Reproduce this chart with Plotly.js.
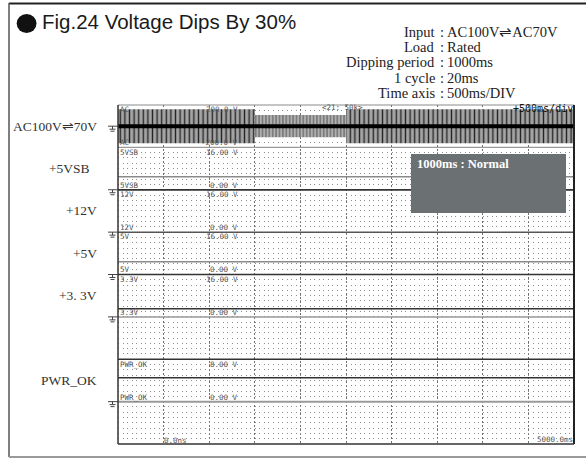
<!DOCTYPE html>
<html><head><meta charset="utf-8">
<script src="https://cdn.plot.ly/plotly-3.0.1.min.js"></script>
<style>html,body{margin:0;padding:0;background:#fff}#chart{width:586px;height:458px}</style>
</head><body><div id="chart"></div>
<script>
// ---------------- data ----------------
const timeSpanMs = [0, 5000];                 // 500 ms/DIV, 10 DIV
const channelNames = ['AC', '5VSB', '12V', '5V', '3.3V', 'PWR_OK'];
const channelSideLabels = ['AC100V\u21CC70V', '+5VSB', '+12V', '+5V', '+3. 3V', 'PWR_OK'];
const channelLane = [0, 1, 2, 3, 4, 6];
const channelScaleTop = [200, 16, 16, 16, 16, 8];
const channelScaleBottom = [-200, 0, 0, 0, 0, 0];
const channelTopText = ['200.0 V', '16.00 V', '16.00 V', '16.00 V', '16.00 V', '8.00 V'];
const channelBottomText = ['-200.0 V', '0.00 V', '0.00 V', '0.00 V', '0.00 V', '0.00 V'];

// AC input: peak envelope (V) per segment – normal / dip to 70% / normal
const acSegmentStartMs = [0, 1500, 2500];
const acSegmentEndMs = [1500, 2500, 5000];
const acPeakVolts = [160, 105, 160];

// DC outputs: flat levels (V) over the whole record
const dcChannels = ['5VSB', '12V', '5V', '3.3V', 'PWR_OK'];
const dcTimeMs = [0, 5000];
const dcLevelVolts = [4.9, 16, 4.8, 3.1, 4.5];
const dcLineColors = ['#8a8a8a', '#333333', '#8a8a8a', '#333333', '#333333'];

const infoLabels = ['Input', 'Load', 'Dipping period', '1 cycle', 'Time axis'];
const infoValues = ['AC100V\u21CCAC70V', 'Rated', '1000ms', '20ms', '500ms/DIV'];

// ---------------- geometry helpers (layout only) ----------------
const L = 118, R = 574, T = 105, B = 444;
const PW = R - L, PH = B - T, NL = 8;
const px = x => (x - L) / PW;
const py = y => (B - y) / PH;
const laneDomain = k => [1 - (k + 1) / NL, 1 - k / NL];
const laneTop = k => T + k * PH / NL;
const laneBot = k => T + (k + 1) * PH / NL;
const axisName = c => 'y' + (c + 2);

const traces = [];
// carrier for background grid subplot
traces.push({x: timeSpanMs, y: [0, 0], xaxis: 'x', yaxis: 'y', mode: 'lines',
  line: {width: 1, color: 'rgba(0,0,0,0)'}, hoverinfo: 'skip', showlegend: false});

// AC envelope bands
const maxPeak = Math.max(...acPeakVolts);
acSegmentStartMs.forEach((t0, i) => {
  const t1 = acSegmentEndMs[i], p = acPeakVolts[i];
  const dip = p < maxPeak;
  traces.push({
    x: [t0, t1, t1, t0, t0], y: [p, p, -p, -p, p],
    xaxis: 'x2', yaxis: axisName(0), mode: 'none', fill: 'toself',
    fillcolor: dip ? '#a9a9a9' : '#9a9a9a',
    fillpattern: dip
      ? {shape: '|', size: 3.4, solidity: 0.3, fgcolor: '#5a5a5a', bgcolor: '#b0b0b0', fillmode: 'replace'}
      : {shape: '|', size: 4.6, solidity: 0.3, fgcolor: '#262626', bgcolor: '#a4a4a4', fillmode: 'replace'},
    hoverinfo: 'skip', showlegend: false
  });
});
// AC zero line
traces.push({x: timeSpanMs, y: [0, 0], xaxis: 'x2', yaxis: axisName(0), mode: 'lines',
  line: {color: '#000', width: 4}, hoverinfo: 'skip', showlegend: false});

// DC traces
dcChannels.forEach((name, i) => {
  const c = channelNames.indexOf(name);
  traces.push({x: dcTimeMs, y: [dcLevelVolts[i], dcLevelVolts[i]], xaxis: 'x2', yaxis: axisName(c),
    mode: 'lines', line: {color: dcLineColors[i], width: 1.5}, hoverinfo: 'skip', showlegend: false});
});

const layout = {
  width: 586, height: 458, autosize: false,
  margin: {l: L, r: 586 - R, t: T, b: 458 - B, pad: 0},
  paper_bgcolor: '#fff', plot_bgcolor: 'rgba(0,0,0,0)',
  showlegend: false,
  xaxis: {domain: [0, 1], range: timeSpanMs, dtick: 500, tick0: 0, showgrid: true,
    gridcolor: '#6f6f6f', griddash: '2px,2px', gridwidth: 1, showticklabels: false, ticks: '',
    zeroline: false, showline: false, fixedrange: true, anchor: 'y'},
  yaxis: {domain: [0, 1], range: [0, 64], dtick: 1, tick0: 0, showgrid: true,
    gridcolor: '#8c8c8c', griddash: '1px,3.56px', gridwidth: 1, showticklabels: false, ticks: '',
    zeroline: false, showline: false, fixedrange: true, anchor: 'x'},
  xaxis2: {range: timeSpanMs, visible: false, anchor: 'y2', fixedrange: true},
  shapes: [], annotations: []
};
channelNames.forEach((n, c) => {
  layout['yaxis' + (c + 2)] = {domain: laneDomain(channelLane[c]),
    range: [channelScaleBottom[c], channelScaleTop[c]], visible: false, anchor: 'x2', fixedrange: true};
});

const S = layout.shapes, A = layout.annotations;
const hline = (x0, x1, y, color, w) => S.push({type: 'line', xref: 'paper', yref: 'paper',
  x0: px(x0), x1: px(x1), y0: py(y), y1: py(y), line: {color, width: w}, layer: 'above'});
const vline = (x, y0, y1, color, w) => S.push({type: 'line', xref: 'paper', yref: 'paper',
  x0: px(x), x1: px(x), y0: py(y0), y1: py(y1), line: {color, width: w}, layer: 'above'});

// outer frame
hline(9, 590, 3.5, '#222', 2);
vline(9, 3, 457, '#555', 1.5);
hline(9, 590, 457, '#9a9a9a', 2);

// lane separators
const sepColors = ['#9a9a9a', '#333', '#555', '#333', '#9a9a9a', '#333', '#9a9a9a'];
const sepWidths = [1.3, 1.5, 1.5, 1.5, 1.5, 1.5, 2];
for (let k = 1; k < NL; k++) hline(L, R, laneTop(k), sepColors[k - 1], sepWidths[k - 1]);

// scope border
hline(L, R, T, '#8a8a8a', 1);
hline(L, R, B, '#333', 1.5);
vline(L, T, B, '#333', 1.5);
vline(R, T, B, '#222', 2);

// ground markers at each channel's 0 V level
channelNames.forEach((n, c) => {
  const d = laneDomain(channelLane[c]);
  const f = (0 - channelScaleBottom[c]) / (channelScaleTop[c] - channelScaleBottom[c]);
  const yp = B - (d[0] + f * (d[1] - d[0])) * PH;
  hline(108, L, yp, '#444', 1);
  vline(112.5, yp, yp + 3, '#444', 1);
  hline(109.5, 115.5, yp + 3, '#444', 1);
  hline(110.5, 114.5, yp + 5, '#444', 1);
});

// status box
S.push({type: 'rect', xref: 'paper', yref: 'paper', x0: px(411), x1: px(566), y0: py(213), y1: py(154),
  fillcolor: '#6b7072', line: {width: 0}, layer: 'above'});
// title bullet
S.push({type: 'circle', xref: 'paper', yref: 'paper', x0: px(16.7), x1: px(36.5), y0: py(33), y1: py(14),
  fillcolor: '#111', line: {width: 0}, layer: 'above'});

const ann = (text, x, y, xanchor, font, extra) => A.push(Object.assign({text, xref: 'paper', yref: 'paper',
  x: px(x), y: py(y), xanchor, yanchor: 'middle', showarrow: false, font, borderpad: 0}, extra || {}));

const titleFont = {family: 'Liberation Sans, Arial, sans-serif', size: 20.5, color: '#1a1a1a'};
const serifInfo = {family: 'Liberation Serif, Times New Roman, serif', size: 14.5, color: '#222'};
const serifSide = {family: 'Liberation Serif, Times New Roman, serif', size: 13.5, color: '#333'};
const mono = {family: 'DejaVu Sans Mono, monospace', size: 7.5, color: '#555'};

ann('Fig.24 Voltage Dips By 30%', 40.5, 21.5, 'left', titleFont);

const infoRows = [32, 47.3, 61.6, 78, 92.5];
infoLabels.forEach((lab, i) => {
  ann(lab, 436, infoRows[i], 'right', serifInfo);
  ann(':', 441.5, infoRows[i], 'center', serifInfo);
  ann(infoValues[i], 446, infoRows[i], 'left', serifInfo);
});

// side labels, scope labels
channelNames.forEach((n, c) => {
  const k = channelLane[c];
  const mid = (laneTop(k) + laneBot(k)) / 2;
  ann(channelSideLabels[c], c === 1 ? 91 : 97.5, mid, 'right', serifSide);
  ann(n, 119, laneTop(k) + 4.8, 'left', mono);
  ann(channelTopText[c], 239, laneTop(k) + 4.8, 'right', mono);
  ann(n, 119, laneBot(k) - 4.6, 'left', mono);
  ann(channelBottomText[c], 239, laneBot(k) - 4.6, 'right', mono);
});

ann('&lt;21: 50k&gt;', 342, 107.5, 'center', mono);
ann('+500ms/div', 574, 108, 'right', {family: 'DejaVu Sans Mono, monospace', size: 10, color: '#111'});
ann('0.0ns', 163, 440.5, 'left', mono);
ann('5000.0ms', 573.5, 439.5, 'right', mono);
ann('<b>1000ms : Normal</b>', 416, 164, 'left', {family: 'Liberation Serif, Times New Roman, serif', size: 12.5, color: '#fff'});

Plotly.newPlot('chart', traces, layout, {staticPlot: true, displayModeBar: false});
</script>
</body></html>
